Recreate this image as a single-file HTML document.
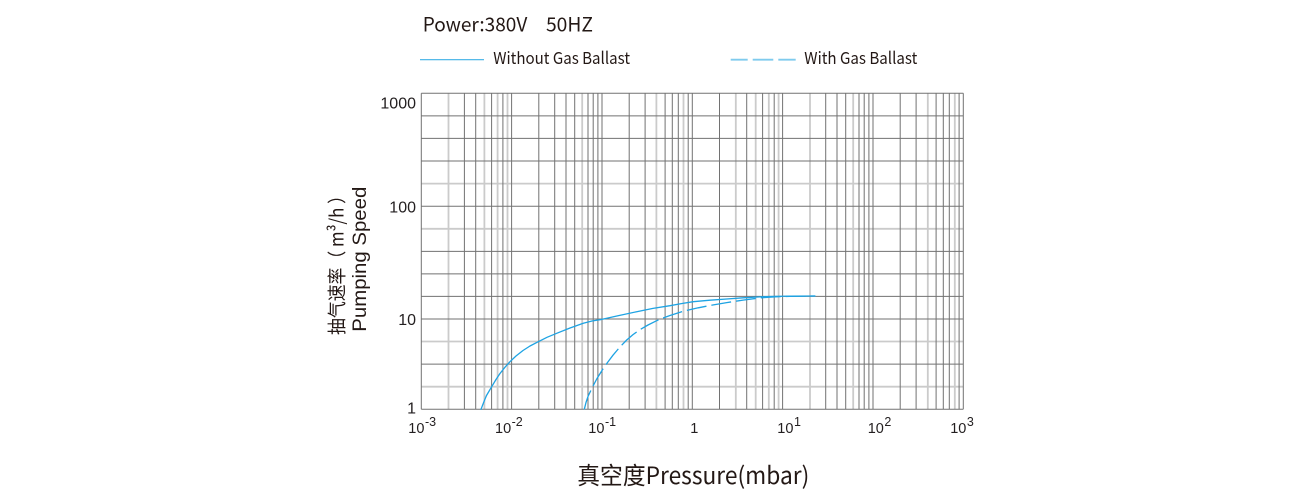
<!DOCTYPE html>
<html>
<head>
<meta charset="utf-8">
<style>
  html, body { margin: 0; padding: 0; background: #ffffff; }
  body { width: 1300px; height: 500px; overflow: hidden; }
  svg { display: block; }
</style>
</head>
<body>
<svg width="1300" height="500" viewBox="0 0 1300 500" xmlns="http://www.w3.org/2000/svg">
  <rect x="0" y="0" width="1300" height="500" fill="#ffffff"/>

  <text x="422.7" y="31.7" font-family="'Noto Sans CJK SC', 'Liberation Sans', sans-serif" font-size="19.5" fill="#231815" textLength="104.6" lengthAdjust="spacingAndGlyphs">Power:380V</text>
  <text x="546" y="31.7" font-family="'Noto Sans CJK SC', 'Liberation Sans', sans-serif" font-size="19.5" fill="#231815" textLength="47" lengthAdjust="spacingAndGlyphs">50HZ</text>

  <path d="M420 59.7H484" stroke="#3eb0e6" stroke-width="1.2" fill="none"/>
  <text x="493.3" y="64" font-family="'Noto Sans CJK SC', 'Liberation Sans', sans-serif" font-size="16.5" fill="#231815" textLength="136.7" lengthAdjust="spacingAndGlyphs">Without Gas Ballast</text>
  <path d="M730.7 59.7H747.7M752.7 59.7H773.3M778.3 59.7H795.7" stroke="#7fcbee" stroke-width="1.8" fill="none"/>
  <text x="804.3" y="64" font-family="'Noto Sans CJK SC', 'Liberation Sans', sans-serif" font-size="16.5" fill="#231815" textLength="113" lengthAdjust="spacingAndGlyphs">With Gas Ballast</text>

  <path fill="none" stroke="#cbcbcb" stroke-width="1.8" d="M421.3 183.6H963.3M421.3 228.8H963.3M421.3 341.5H963.3M421.3 386.7H963.3M448.5 93.3V409.3M484.4 93.3V409.3M497.6 93.3V409.3M507.5 93.3V409.3M582.2 93.3V409.3M656.4 93.3V409.3M683.5 93.3V409.3M735.8 93.3V409.3M755.7 93.3V409.3M768.8 93.3V409.3M778.6 93.3V409.3M810 93.3V409.3M853.2 93.3V409.3M927.8 93.3V409.3M954.8 93.3V409.3"/>

  <path fill="none" stroke="#727272" stroke-width="1" d="M421.3 93.3H963.3M421.3 115.9H963.3M421.3 138.4H963.3M421.3 161H963.3M421.3 206.2H963.3M421.3 251.4H963.3M421.3 273.9H963.3M421.3 296.4H963.3M421.3 319H963.3M421.3 364.1H963.3M421.3 409.3H963.3M421.3 93.3V409.3M511.6 93.3V409.3M602 93.3V409.3M692.3 93.3V409.3M782.6 93.3V409.3M873 93.3V409.3M963.3 93.3V409.3M464.4 93.3V409.3M475.7 93.3V409.3M491.6 93.3V409.3M502.9 93.3V409.3M538.8 93.3V409.3M554.7 93.3V409.3M566 93.3V409.3M574.7 93.3V409.3M588 93.3V409.3M593.2 93.3V409.3M597.9 93.3V409.3M629.2 93.3V409.3M645.1 93.3V409.3M665.1 93.3V409.3M672.3 93.3V409.3M678.3 93.3V409.3M688.2 93.3V409.3M719.5 93.3V409.3M746.7 93.3V409.3M762.6 93.3V409.3M774.2 93.3V409.3M825.7 93.3V409.3M837 93.3V409.3M845.7 93.3V409.3M859 93.3V409.3M864.2 93.3V409.3M868.9 93.3V409.3M900.2 93.3V409.3M916.1 93.3V409.3M936.1 93.3V409.3M943.3 93.3V409.3M949.3 93.3V409.3M959.1 93.3V409.3"/>

  <polyline fill="none" stroke="#1ea3e3" stroke-width="1.3" stroke-linejoin="round" stroke-linecap="round" points="481,409.3 484,401.5 486.5,395.5 491.7,386.7 496,379.5 500,373.5 505,367.2 510,361.7 516,356 523,350.5 530,346 538.3,341.7 547,337.3 556.7,333.3 570,328 583.3,323.3 592,321 602.3,319.3 618,315.8 636.7,311.7 653,308.4 670,305.7 682,303.5 693.3,301.7 710,300.2 726.7,299 743,297.8 760,296.9 775,296.4 790,296.1 815,296"/>
  <polyline fill="none" stroke="#1ea3e3" stroke-width="1.3" stroke-linejoin="round" stroke-dasharray="20 5" points="584.3,409.3 586,402.5 588,396.5 590.5,391.2 592.7,386.7 597,378.5 602.3,370 607.5,362.5 613,355.2 619.5,347.5 626.7,340 633,334.6 640,329.6 648,325 656.7,320.7 663,318 670,315.5 677,313.2 685,310.8 698.3,307.8 712,305.1 726.7,302.6 743,300.1 760,297.9 775,296.8 790,296.3 815,296"/>

  <g font-family="'Liberation Sans', Arial, sans-serif" font-size="16" fill="#231f20" text-anchor="end">
    <text x="416" y="108.3">1000</text>
    <text x="416" y="212.3">100</text>
    <text x="416" y="325">10</text>
    <text x="416" y="413.3">1</text>
  </g>

  <g font-family="'Liberation Sans', Arial, sans-serif" fill="#231f20">
    <text x="408.3" y="432.8" font-size="14.5">10<tspan dx="0.5" dy="-7" font-size="12.5">-3</tspan></text>
    <text x="495" y="432.8" font-size="14.5">10<tspan dx="0.5" dy="-7" font-size="12.5">-2</tspan></text>
    <text x="588.3" y="432.8" font-size="14.5">10<tspan dx="0.5" dy="-7" font-size="12.5">-1</tspan></text>
    <text x="690.3" y="432.8" font-size="14.5">1</text>
    <text x="777.3" y="432.8" font-size="14.5">10<tspan dx="0.5" dy="-7" font-size="12.5">1</tspan></text>
    <text x="867.7" y="432.8" font-size="14.5">10<tspan dx="0.5" dy="-7" font-size="12.5">2</tspan></text>
    <text x="950.2" y="432.8" font-size="14.5">10<tspan dx="0.5" dy="-7" font-size="12.5">3</tspan></text>
  </g>

  <text transform="translate(343.5,335) rotate(-90)" font-family="'Noto Sans CJK SC', 'Liberation Sans', sans-serif" font-size="19" fill="#231815" textLength="148" lengthAdjust="spacingAndGlyphs">抽气速率（ m³/h ）</text>
  <text transform="translate(366,331.7) rotate(-90)" font-family="'Liberation Sans', Arial, sans-serif" font-size="19.5" fill="#231815" textLength="145" lengthAdjust="spacingAndGlyphs">Pumping Speed</text>

  <text x="577.3" y="484" font-family="'Noto Sans CJK SC', 'Liberation Sans', sans-serif" font-size="24" fill="#231815" textLength="232" lengthAdjust="spacingAndGlyphs">真空度Pressure(mbar)</text>
</svg>
</body>
</html>
